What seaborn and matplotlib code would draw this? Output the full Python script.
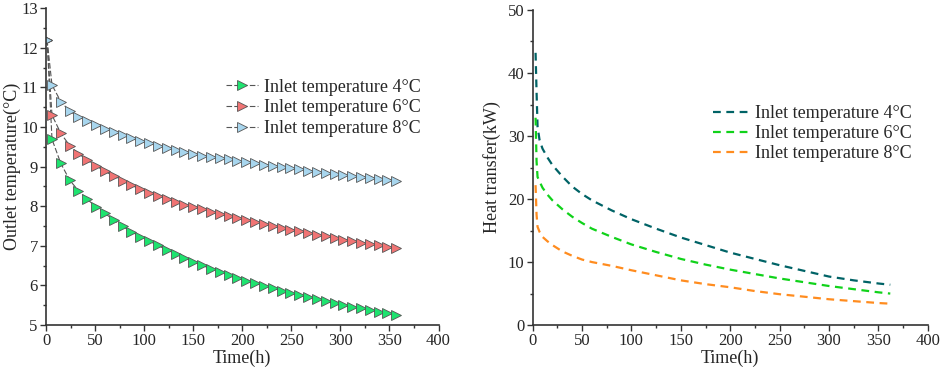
import seaborn as sns
import numpy as np
import matplotlib.pyplot as plt
from matplotlib.ticker import MultipleLocator

# Left panel: outlet temperature (markers every ~9 h)
t_out = [1, 6, 15, 24, 33, 42, 51, 60, 69, 78, 87, 96, 105, 114, 123, 132, 141,
         150, 159, 168, 177, 186, 195, 204, 213, 222, 231, 240, 249, 258, 267,
         276, 285, 294, 303, 312, 321, 330, 339, 348, 357]
out_4 = [12.20, 9.69, 9.08, 8.66, 8.39, 8.17, 7.99, 7.82, 7.65, 7.49, 7.36, 7.23,
         7.12, 7.01, 6.90, 6.80, 6.70, 6.60, 6.51, 6.42, 6.34, 6.26, 6.19, 6.12,
         6.05, 5.99, 5.93, 5.87, 5.81, 5.75, 5.70, 5.65, 5.60, 5.55, 5.50, 5.46,
         5.42, 5.38, 5.34, 5.30, 5.26]
out_6 = [12.20, 10.30, 9.84, 9.53, 9.33, 9.16, 9.02, 8.88, 8.76, 8.64, 8.53, 8.43,
         8.34, 8.26, 8.18, 8.11, 8.04, 7.98, 7.92, 7.86, 7.80, 7.75, 7.70, 7.65,
         7.60, 7.55, 7.50, 7.45, 7.41, 7.37, 7.32, 7.28, 7.24, 7.20, 7.16, 7.12,
         7.08, 7.05, 7.01, 6.98, 6.95]
out_8 = [12.20, 11.06, 10.64, 10.40, 10.26, 10.15, 10.05, 9.96, 9.87, 9.79, 9.71,
         9.64, 9.59, 9.53, 9.48, 9.42, 9.37, 9.32, 9.28, 9.24, 9.21, 9.18, 9.15,
         9.12, 9.08, 9.05, 9.02, 8.99, 8.96, 8.93, 8.90, 8.87, 8.85, 8.82, 8.79,
         8.76, 8.74, 8.72, 8.69, 8.67, 8.64]

# Right panel: heat transfer
t_q = [3, 4, 5, 7, 10, 15, 20, 30, 40, 50, 60, 80, 100, 125, 150, 175, 200,
       225, 250, 275, 300, 325, 350, 362]
q_4 = [43.2, 37.0, 31.5, 29.4, 28.0, 26.6, 25.4, 23.6, 22.0, 20.8, 19.8, 18.2,
       16.8, 15.3, 13.9, 12.7, 11.5, 10.5, 9.5, 8.6, 7.7, 7.1, 6.6, 6.4]
q_6 = [32.9, 26.0, 23.5, 22.8, 21.8, 20.7, 19.8, 18.4, 17.2, 16.2, 15.3, 14.0,
       12.8, 11.6, 10.5, 9.6, 8.8, 8.1, 7.4, 6.8, 6.2, 5.7, 5.2, 5.0]
q_8 = [22.2, 17.5, 15.6, 14.8, 14.0, 13.3, 12.7, 11.7, 11.0, 10.4, 10.0, 9.4,
       8.7, 7.9, 7.1, 6.5, 6.0, 5.4, 4.9, 4.5, 4.1, 3.8, 3.5, 3.4]

labels = ['Inlet temperature 4°C', 'Inlet temperature 6°C', 'Inlet temperature 8°C']

sns.set_style("ticks")
plt.rcParams['font.family'] = ['Liberation Serif', 'DejaVu Serif']

fig = plt.figure(figsize=(9.41, 3.69), dpi=100)
ax1 = fig.add_axes([0.049, 0.119, 0.417, 0.859])
ax2 = fig.add_axes([0.566, 0.119, 0.420, 0.854])

# left: dark dashed connecting line + coloured triangles
marker_cols = ['#1ee36f', '#f07474', '#a8d6ee']
for y, c, lab in zip([out_4, out_6, out_8], marker_cols, labels):
    sns.lineplot(x=t_out, y=y, ax=ax1, color='#555555', linewidth=0.8,
                 linestyle=(0, (5, 2)), marker='>', markersize=7,
                 markerfacecolor=c, markeredgecolor='#555555',
                 markeredgewidth=0.6, label=lab)

ax1.set_xlim(0, 400)
ax1.set_ylim(5, 13)
ax1.xaxis.set_major_locator(MultipleLocator(50))
ax1.xaxis.set_minor_locator(MultipleLocator(25))
ax1.yaxis.set_major_locator(MultipleLocator(1))
ax1.yaxis.set_minor_locator(MultipleLocator(0.5))
ax1.set_xlabel('Time(h)', fontsize=13, labelpad=0)
ax1.set_ylabel('Outlet temperature(°C)', fontsize=13, labelpad=0)
ax1.legend(loc='upper left', bbox_to_anchor=(0.44, 0.80), frameon=False,
           fontsize=13, handlelength=1.8, handletextpad=0.28, labelspacing=0.2,
           borderaxespad=0)

# right: dashed curves
line_cols = ['#006366', '#10d21a', '#ff8c1f']
for y, c, lab in zip([q_4, q_6, q_8], line_cols, labels):
    sns.lineplot(x=t_q, y=y, ax=ax2, color=c, linewidth=1.6,
                 linestyle=(0, (3.5, 2.5)), label=lab)

ax2.set_xlim(0, 400)
ax2.set_ylim(0, 50)
ax2.xaxis.set_major_locator(MultipleLocator(50))
ax2.xaxis.set_minor_locator(MultipleLocator(25))
ax2.yaxis.set_major_locator(MultipleLocator(10))
ax2.yaxis.set_minor_locator(MultipleLocator(5))
ax2.set_xlabel('Time(h)', fontsize=13, labelpad=0)
ax2.set_ylabel('Heat transfer(kW)', fontsize=13, labelpad=5)
ax2.legend(loc='upper left', bbox_to_anchor=(0.438, 0.72), frameon=False,
           fontsize=13, handlelength=2.05, handletextpad=0.28, labelspacing=0.15,
           borderaxespad=0)

for ax in (ax1, ax2):
    sns.despine(ax=ax)
    for s in ('left', 'bottom'):
        ax.spines[s].set_color('#333333')
        ax.spines[s].set_linewidth(1.2)
    ax.tick_params(which='major', direction='out', length=4, width=1,
                   color='#333333', labelsize=12, pad=2)
    ax.tick_params(which='minor', direction='out', length=2.5, width=1,
                   color='#333333')

fig.savefig('out.png', dpi=100)
